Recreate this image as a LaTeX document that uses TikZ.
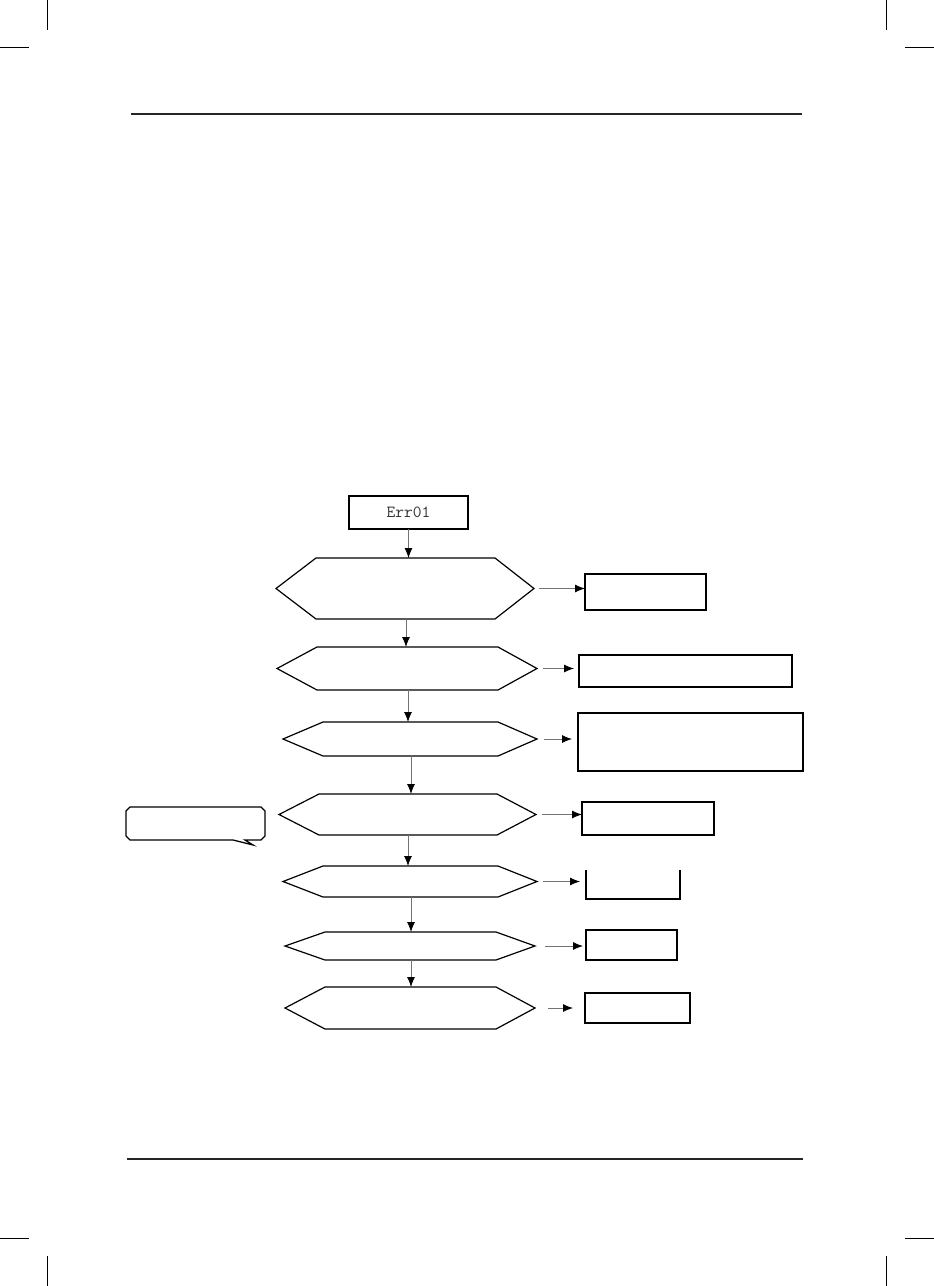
\documentclass[tikz,border=0pt]{standalone}
\usepackage{fontspec}
\usetikzlibrary{arrows.meta,calc}
\tikzset{
  hexline/.style={draw=black,line width=1.2pt,line join=miter},
  boxst/.style={draw=black,line width=1.5pt,inner sep=0pt,outer sep=0pt},
  ghost/.style={inner sep=0pt,outer sep=0pt},
  conn/.style={draw=black!55,line width=0.8pt,-{Latex[length=10pt,width=8pt,color=black]}},
  rule/.style={draw=black!85,line width=1.2pt},
  crop/.style={draw=black,line width=1pt}
}
% name, left, right, top, bottom
\newcommand\hexnode[5]{%
  \node[ghost,minimum width={(#3-#2)*1pt},minimum height={(#5-#4)*1pt}] (#1) at ({(#2+#3)/2},{(#4+#5)/2}) {};
  \draw[hexline] (#1.west) -- ([xshift=40pt]#1.north west) -- ([xshift=-39pt]#1.north east) -- (#1.east)
     -- ([xshift=-39pt]#1.south east) -- ([xshift=40pt]#1.south west) -- cycle;}
% style, name, left, right, top, bottom
\newcommand\boxnode[6]{%
  \node[#1,minimum width={(#4-#3)*1pt},minimum height={(#6-#5)*1pt}] (#2) at ({(#3+#4)/2},{(#5+#6)/2}) {};}
\begin{document}
\begin{tikzpicture}[x=1pt,y=-1pt]
\useasboundingbox (0,0) rectangle (934,1286);
% crop marks
\draw[crop] (47,0) -- (47,30);
\draw[crop] (0,47) -- (29,47);
\draw[crop] (886,0) -- (886,30);
\draw[crop] (905,47) -- (934,47);
\draw[crop] (0,1238) -- (29,1238);
\draw[crop] (905,1238) -- (934,1238);
\draw[crop] (47,1256) -- (47,1286);
\draw[crop] (886,1256) -- (886,1286);
% header / footer rules
\draw[rule] (131,114) -- (802,114);
\draw[rule] (127,1159) -- (803,1159);

% start box
\node[boxst,line width=1.7pt,minimum width=119pt,minimum height=33pt,text=black!80,font=\ttfamily\fontsize{17}{19}\selectfont] (err) at (408.5,512.5) {Err01};

% decision hexagons
\hexnode{h1}{276}{534}{558}{619}
\hexnode{h2}{277}{537}{647}{690}
\hexnode{h3}{283}{537}{722}{756}
\hexnode{h4}{279}{536}{794}{835}
\hexnode{h5}{283}{537}{866}{897}
\hexnode{h6}{285}{535}{932}{960}
\hexnode{h7}{285}{535}{987}{1029}

% result boxes
\boxnode{boxst}{b1}{585}{706}{574}{610}
\boxnode{boxst}{b2}{579}{792}{655}{687}
\boxnode{boxst}{b3}{578}{803}{713}{771}
\boxnode{boxst}{b4}{582}{714}{802}{835}
\boxnode{ghost}{b5}{586}{680}{870}{899}
\draw[boxst] (b5.north west) -- (b5.south west) -- (b5.south east) -- (b5.north east);
\boxnode{boxst}{b6}{586}{677}{930}{960}
\boxnode{boxst}{b7}{585}{690}{993}{1023}

% callout
\boxnode{ghost}{note}{126}{265}{807}{840}
\draw[black,line width=1.3pt,line join=miter]
  ([xshift=4pt]note.north west) -- ([xshift=-4pt]note.north east) -- ([yshift=-4pt]note.north east)
  -- ([yshift=4pt]note.south east) -- ([xshift=-4pt]note.south east) -- ([xshift=-20pt]note.south east)
  -- ([xshift=-12pt,yshift=-5pt]note.south east) -- ([xshift=-32pt]note.south east)
  -- ([xshift=4pt]note.south west) -- ([yshift=4pt]note.south west) -- ([yshift=-4pt]note.north west) -- cycle;

% vertical flow
\draw[conn] (err.south) -- (err.south |- h1.north);
\draw[conn] ([xshift=1pt]h1.south) -- ([xshift=1pt]h1.south |- h2.north);
\draw[conn] ([xshift=1pt]h2.south) -- ([xshift=1pt]h2.south |- h3.north);
\draw[conn] ([xshift=1pt]h3.south) -- ([xshift=1pt]h3.south |- h4.north);
\draw[conn] ([xshift=0.5pt]h4.south) -- ([xshift=0.5pt]h4.south |- h5.north);
\draw[conn] ([xshift=1pt]h5.south) -- ([xshift=1pt]h5.south |- h6.north);
\draw[conn] ([xshift=1pt]h6.south) -- ([xshift=1pt]h6.south |- h7.north);

% side arrows
\draw[conn] ([xshift=5pt]h1.east) -- (h1.east -| b1.west);
\draw[conn] ([xshift=6pt]h2.east) -- ([xshift=-5pt]h2.east -| b2.west);
\draw[conn] ([xshift=7pt]h3.east) -- ([xshift=-6pt]h3.east -| b3.west);
\draw[conn] ([xshift=6pt]h4.east) -- (h4.east -| b4.west);
\draw[conn] ([xshift=6pt]h5.east) -- ([xshift=-6pt]h5.east -| b5.west);
\draw[conn] ([xshift=10pt]h6.east) -- ([xshift=-3pt]h6.east -| b6.west);
\draw[conn] ([xshift=13pt]h7.east) -- ([xshift=-12pt]h7.east -| b7.west);
\end{tikzpicture}
\end{document}
